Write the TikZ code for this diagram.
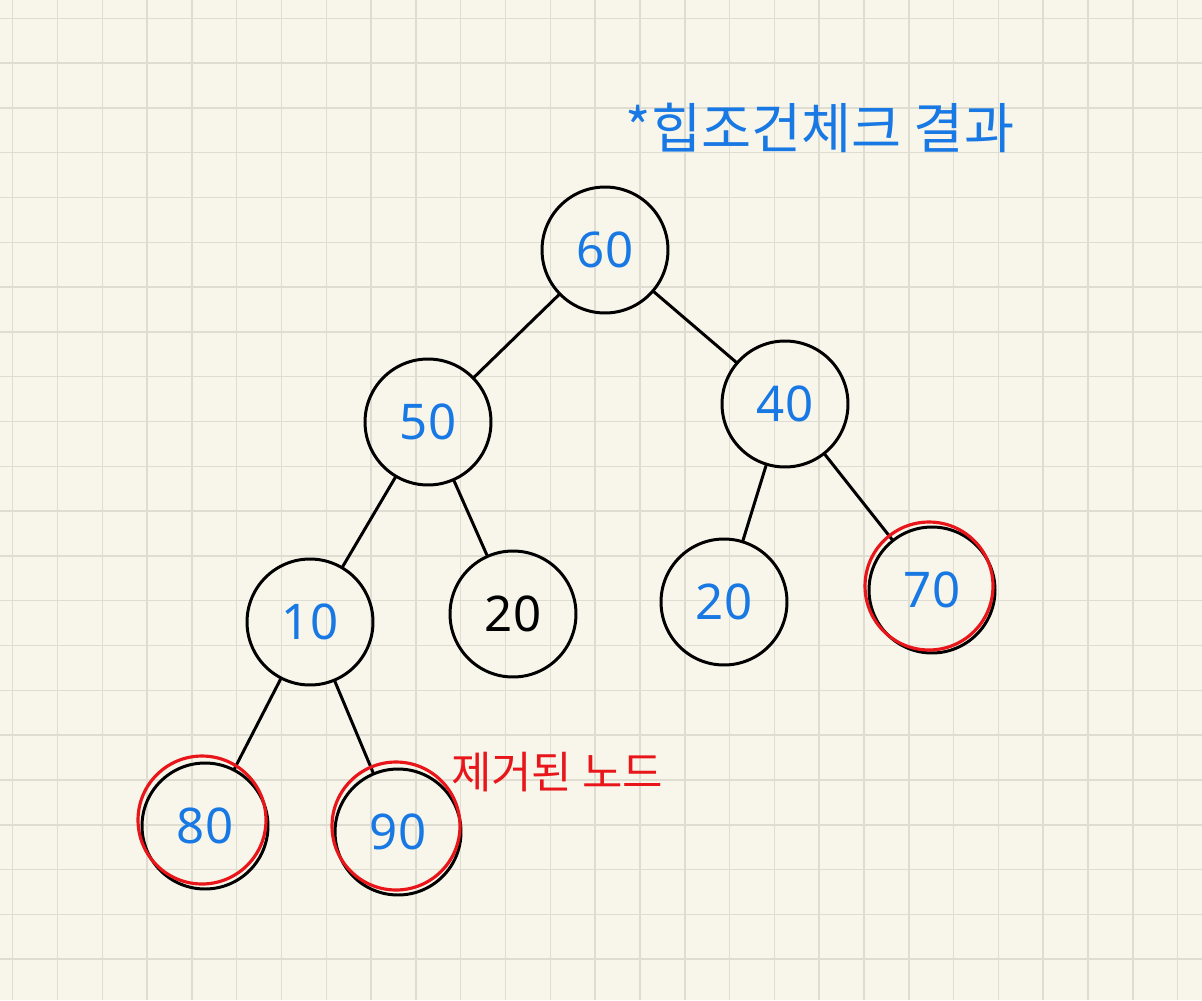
\documentclass[tikz,border=0pt]{standalone}
\usepackage{fontspec}
\setmainfont{Noto Sans}
\newfontfamily\krfont{Noto Sans CJK KR}
\usepackage{tikz}

\definecolor{paper}{HTML}{F8F6EA}
\definecolor{gridline}{HTML}{DFDDD1}
\definecolor{penblue}{HTML}{1878E4}
\definecolor{penred}{HTML}{E8161A}

\tikzset{
  heapnode/.style={circle, draw=black, line width=1.7pt, minimum size=2.52cm,
    text=penblue, font=\fontsize{28}{28}\selectfont},
  removedring/.style={circle, draw=penred, line width=1.8pt, minimum size=2.56cm},
  link/.style={line width=1.7pt, line cap=round}
}

\begin{document}
\begin{tikzpicture}[x=0.02cm, y=-0.02cm]

% paper and grid
\fill[paper] (0,0) rectangle (1202,1000);
\useasboundingbox (0,0) rectangle (1202,1000);
\foreach \gx in {0,...,26} \draw[gridline, line width=0.9pt] (12.7+44.8*\gx,0) -- (12.7+44.8*\gx,1000);
\foreach \gy in {0,...,22} \draw[gridline, line width=0.9pt] (0,18.3+44.8*\gy) -- (1202,18.3+44.8*\gy);

% title
\node[text=penblue, font=\krfont\fontsize{31}{31}\selectfont] (title) at (820,128) {*힙조건체크 결과};

% heap nodes
\node[heapnode] (n60) at (605,250) {60};
\node[heapnode] (n50) at (428,422) {50};
\node[heapnode] (n40) at (785,404) {40};
\node[heapnode] (n10) at (310,622) {10};
\node[heapnode, text=black] (n20a) at (513,614) {20};
\node[heapnode] (n20b) at (724,602) {20};
\node[heapnode] (n70) at (932,590) {70};
\node[heapnode] (n80) at (205,826) {80};
\node[heapnode] (n90) at (398,832) {90};

% links
\draw[link] (n60) -- (n50);
\draw[link] (n60) -- (n40);
\draw[link] (n50) -- (n10);
\draw[link] (n50) -- (n20a);
\draw[link] (n40) -- (n20b);
\draw[link] (n40) -- (n70);
\draw[link] (n10) -- (n80);
\draw[link] (n10) -- (n90);

% removed nodes
\node[removedring] (r70) at (929,586) {};
\node[removedring] (r80) at (202,820) {};
\node[removedring] (r90) at (396,826) {};
\node[text=penred, font=\krfont\fontsize{25}{25}\selectfont] (note) at (557,772) {제거된 노드};

\end{tikzpicture}
\end{document}
